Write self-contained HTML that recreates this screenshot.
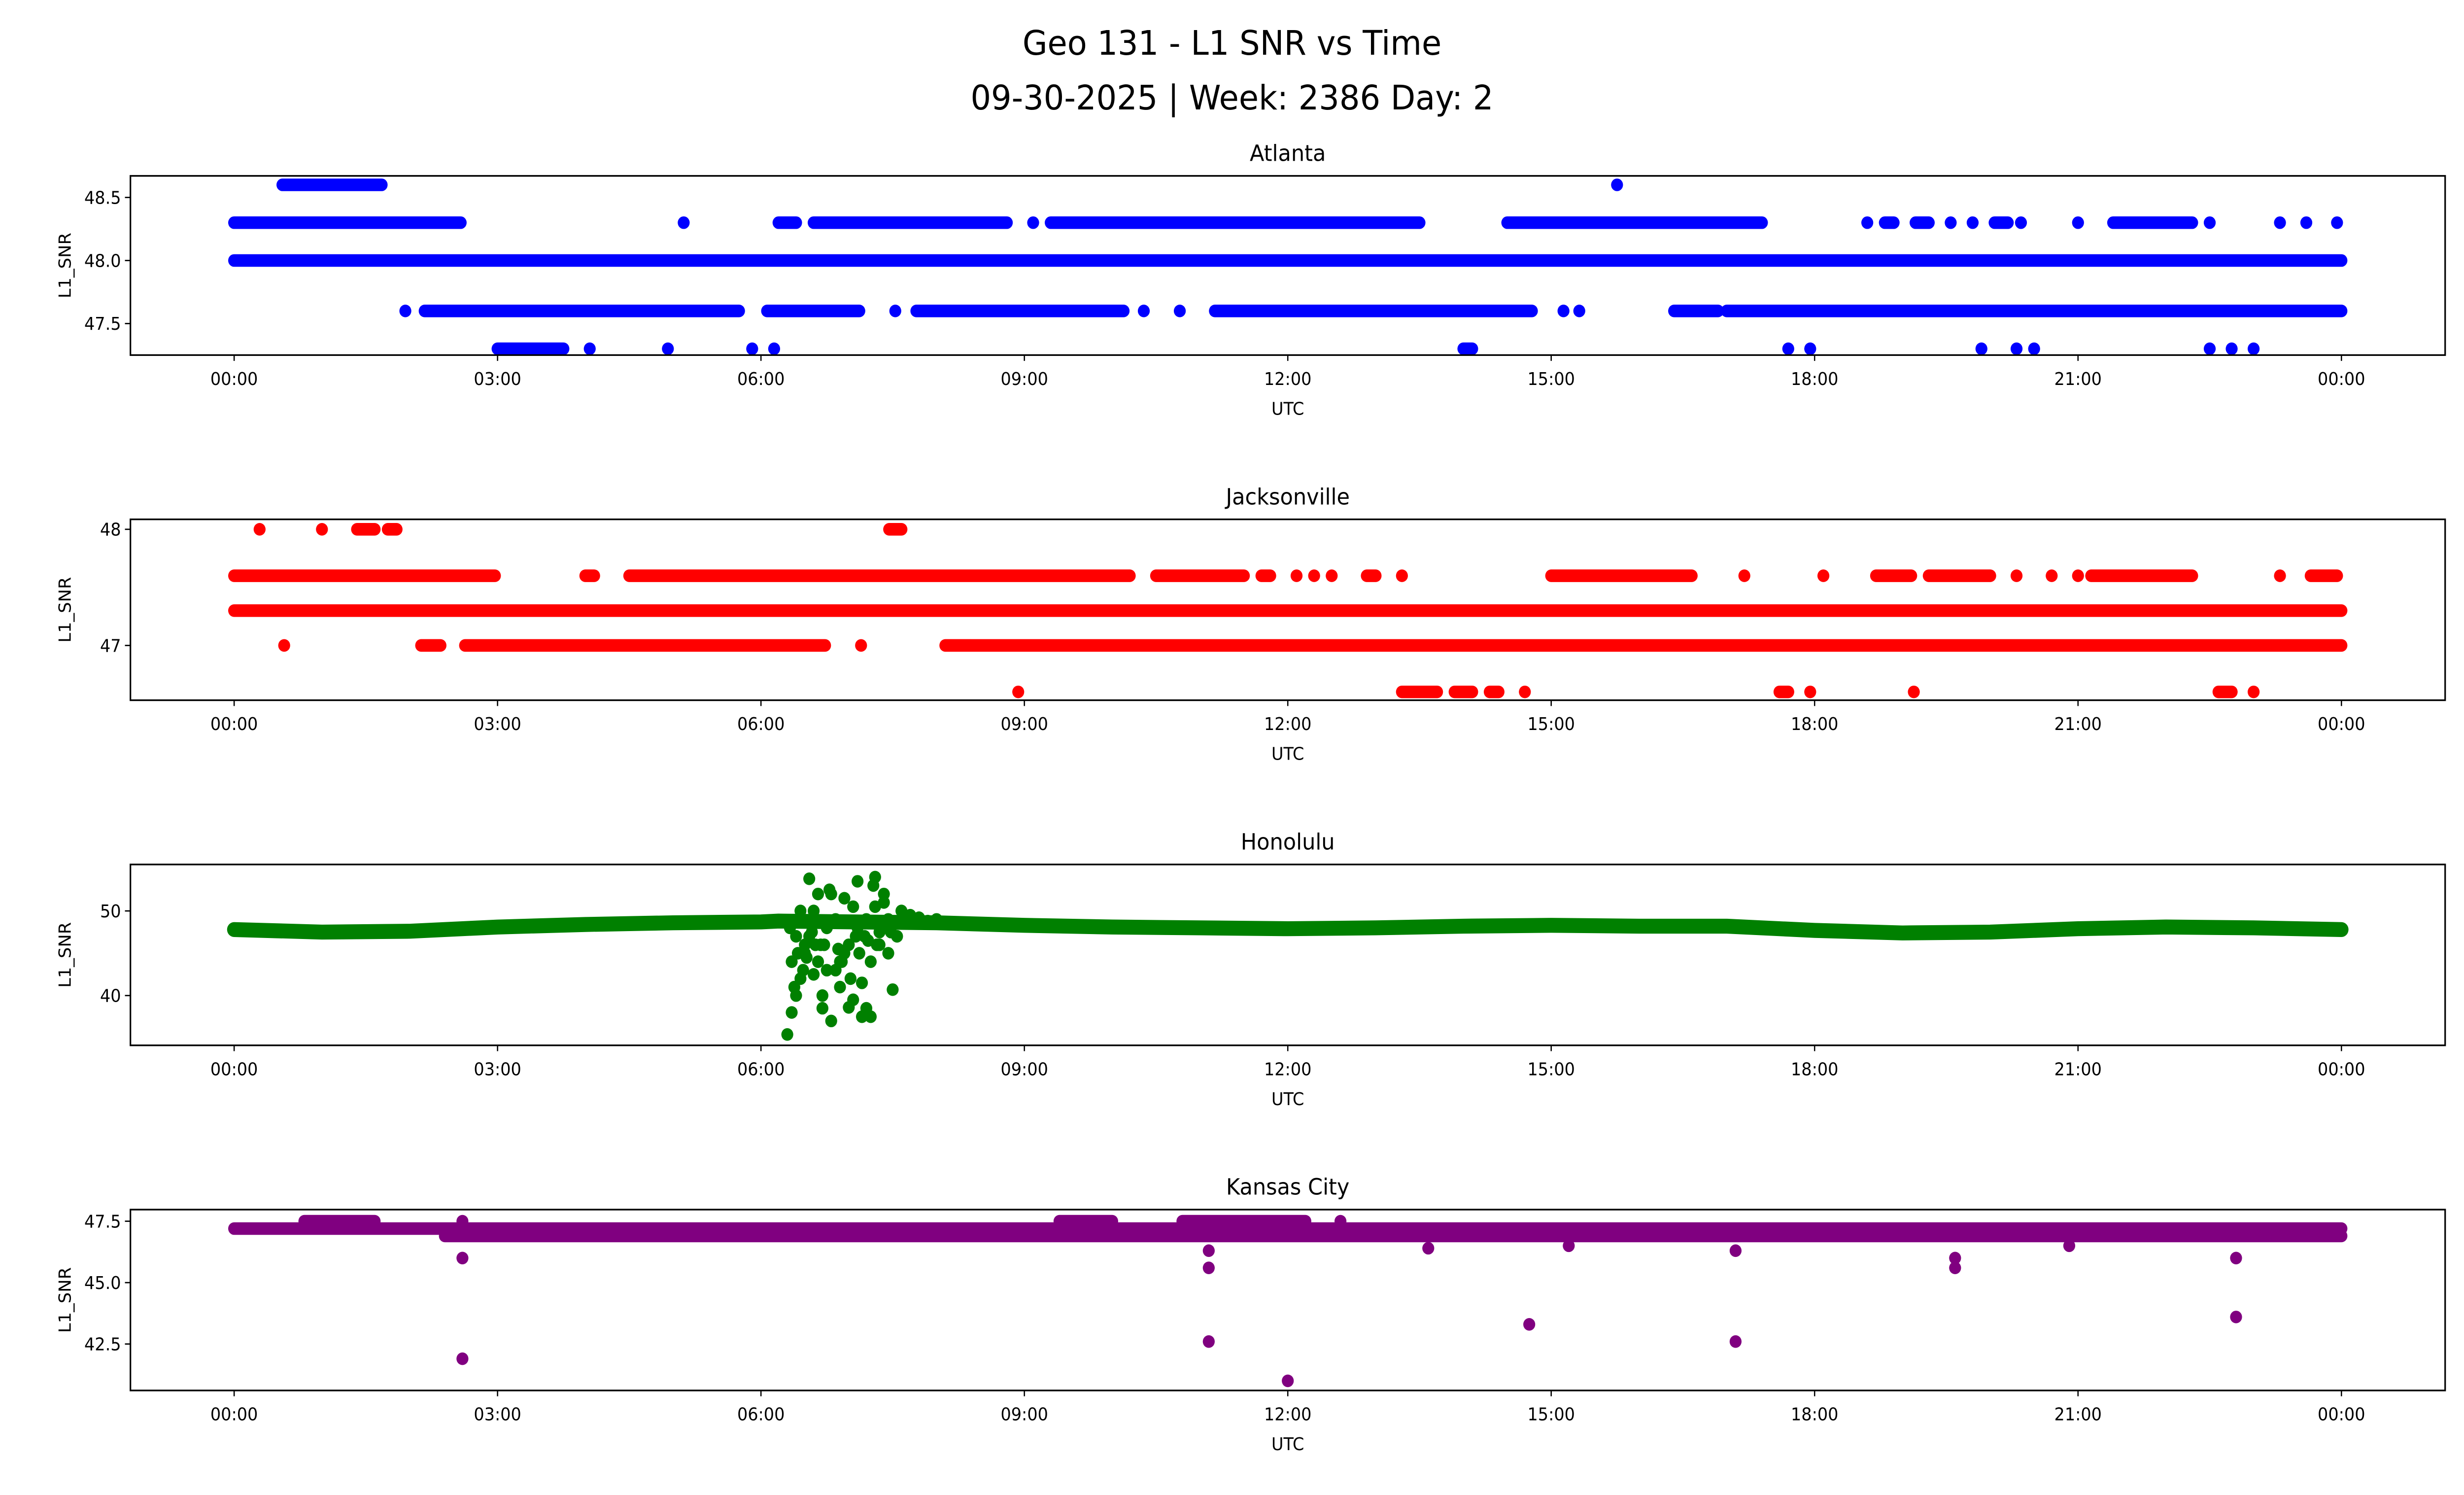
<!DOCTYPE html>
<html><head><meta charset="utf-8"><style>
html,body{margin:0;padding:0;background:#fff;overflow:hidden;width:100%;height:100%}
svg{display:block;position:fixed;left:0;top:0;width:100vw;height:100vh}
text{font-family:"DejaVu Sans","Liberation Sans",sans-serif;fill:#000}
</style></head><body>
<svg id="chart" viewBox="0 0 1568 901" preserveAspectRatio="none" xmlns="http://www.w3.org/2000/svg">
<text x="784" y="33" font-size="20.5" text-anchor="middle">Geo 131 - L1 SNR vs Time</text>
<text x="784" y="66" font-size="20.5" text-anchor="middle">09-30-2025 | Week: 2386 Day: 2</text>
<g id="plots"></g>
</svg>
<script>
// x-axis ticks (hours) and labels
const xTickHours = [0,3,6,9,12,15,18,21,24];
const xTickLabels = ["00:00","03:00","06:00","09:00","12:00","15:00","18:00","21:00","00:00"];

// Atlanta: runs [startHour, endHour] per SNR level
const atlLevels = [48.6, 48.3, 48.0, 47.6, 47.3];
const atlRuns = [
  [[0.55,1.68],[15.75,15.75]],
  [[0,2.58],[5.12,5.12],[6.2,6.4],[6.6,8.8],[9.1,9.1],[9.3,13.5],[14.5,17.4],[18.6,18.6],[18.8,18.9],[19.15,19.3],[19.55,19.55],[19.8,19.8],[20.05,20.2],[20.35,20.35],[21.0,21.0],[21.4,22.3],[22.5,22.5],[23.3,23.3],[23.6,23.6],[23.95,23.95]],
  [[0,24]],
  [[1.95,1.95],[2.17,5.75],[6.07,7.12],[7.53,7.53],[7.77,10.13],[10.36,10.36],[10.77,10.77],[11.17,14.78],[15.14,15.14],[15.32,15.32],[16.4,16.9],[17.0,24]],
  [[3.0,3.75],[4.05,4.05],[4.94,4.94],[5.9,5.9],[6.15,6.15],[14.0,14.1],[17.7,17.7],[17.95,17.95],[19.9,19.9],[20.3,20.3],[20.5,20.5],[22.5,22.5],[22.75,22.75],[23.0,23.0]]
];
const atlYTicks = [47.5,48.0,48.5];

// Jacksonville
const jaxLevels = [48.0, 47.6, 47.3, 47.0, 46.6];
const jaxRuns = [
  [[0.29,0.29],[1.0,1.0],[1.4,1.6],[1.75,1.85],[7.46,7.6]],
  [[0,2.97],[4.0,4.1],[4.5,10.2],[10.5,11.5],[11.7,11.8],[12.1,12.1],[12.3,12.3],[12.5,12.5],[12.9,13.0],[13.3,13.3],[15.0,16.6],[17.2,17.2],[18.1,18.1],[18.7,19.1],[19.3,20.0],[20.3,20.3],[20.7,20.7],[21.0,21.0],[21.15,22.3],[23.3,23.3],[23.65,23.95]],
  [[0,24]],
  [[0.57,0.57],[2.13,2.35],[2.63,6.73],[7.14,7.14],[8.1,24]],
  [[8.93,8.93],[13.3,13.7],[13.9,14.1],[14.3,14.4],[14.7,14.7],[17.6,17.7],[17.95,17.95],[19.13,19.13],[22.6,22.75],[23.0,23.0]]
];
const jaxYTicks = [47,48];

// Honolulu baseline (hour, SNR) and burst points
const honHours = [0,1,2,3,4,5,6,6.2,8,9,10,11,12,13,14,15,16,17,18,19,20,21,22,23,24];
const honValues = [47.8,47.5,47.6,48.1,48.4,48.6,48.7,48.8,48.6,48.3,48.1,48.0,47.9,48.0,48.2,48.3,48.2,48.2,47.7,47.4,47.5,47.9,48.1,48.0,47.8];
const honBurstHours = [6.3,6.35,6.4,6.45,6.5,6.55,6.6,6.65,6.7,6.75,6.8,6.85,6.9,6.95,7.0,7.05,7.1,7.15,7.2,7.25,7.3,7.35,7.4,7.45,7.5,7.6,7.7,7.8,7.9,8.0,6.35,6.45,6.55,6.65,6.75,6.85,6.95,7.05,7.15,7.25,7.35,7.45,6.4,6.6,6.8,7.0,7.2,7.4,6.5,6.7,6.9,7.1,7.3,6.38,6.48,6.62,6.78,7.02,7.18,7.28,6.33,6.42,6.58,6.72,6.88,7.08,7.22,7.38,7.55,6.52,6.68,6.92,7.12,7.32,7.48];
const honBurstValues = [35.4,38,40,42,46,53.8,50,44,38.5,48,37,43,41,51.5,38.6,39.5,53.5,37.5,38.5,37.5,54,46,52,49,40.7,50,49.5,49.2,48.8,49,44,50,47,52,43,49,45,50.5,41.5,44,47.5,45,47,42.5,52,46,49,51,45,40,44,48,50.5,41,43,46,52.5,42,47,53,48,45,47.5,46,45.5,47,46.5,48,47,44.5,46,44,45,46,47.5];
const honYTicks = [40,50];

// Kansas City
const kcLevels = [47.5, 47.2, 46.9];
const kcRuns = [
  [[0.8,1.6],[2.6,2.6],[9.4,10.0],[10.8,12.2],[12.6,12.6]],
  [[0,24]],
  [[2.4,24]]
];
const kcOutHours = [2.6,2.6,11.1,11.1,11.1,12.0,14.75,17.1,17.1,19.6,19.6,22.8,22.8,13.6,20.9,15.2];
const kcOutValues = [46.0,41.9,46.3,45.6,42.6,41.0,43.3,42.6,46.3,45.6,46.0,43.6,46.0,46.4,46.5,46.5];
const kcYTicks = [42.5,45.0,47.5];

const NS = "http://www.w3.org/2000/svg";
const plots = document.getElementById('plots');
const X0 = 83, X1 = 1556;
function xs(h){ return 149 + h/24*1341; }
function mk(tag, attrs, parent){
  const e = document.createElementNS(NS, tag);
  for (const k in attrs) e.setAttribute(k, attrs[k]);
  (parent||plots).appendChild(e);
  return e;
}
function yScale(top, v1, p1, v2, p2){ return v => p1 + (v - v1) * (p2 - p1) / (v2 - v1); }

function panel(name, title, top, bottom, ys, yTicks, fmt, color, drawFn){
  const g = mk('g', {});
  
  
  const t = mk('text', {x: (X0+X1)/2, y: top-9, 'font-size': 13.5, 'text-anchor':'middle'}, g);
  t.textContent = title;
  
  
  const marks = mk('g', {fill: color, stroke: color}, g);
  
  
  drawFn(marks, ys);
  const frame = mk('rect', {x:X0, y:top, width:X1-X0, height:bottom-top, fill:'none', stroke:'#000', 'stroke-width':1}, g);
  
  
  yTicks.forEach(v => {
    const y = ys(v);
    mk('line', {x1:X0-3.5, x2:X0, y1:y, y2:y, stroke:'#000', 'stroke-width':0.8}, g);
    const tl = mk('text', {x:X0-6, y:y+3.8, 'font-size':10.5, 'text-anchor':'end'}, g);
    tl.textContent = fmt(v);
    
    
  });
  xTickHours.forEach((h,i) => {
    const x = xs(h);
    mk('line', {x1:x, x2:x, y1:bottom, y2:bottom+3.5, stroke:'#000', 'stroke-width':0.8}, g);
    const tl = mk('text', {x:x, y:bottom+18, 'font-size':10.5, 'text-anchor':'middle'}, g);
    tl.textContent = xTickLabels[i];
    
    
  });
  const xl = mk('text', {x:(X0+X1)/2, y:bottom+36, 'font-size':10.5, 'text-anchor':'middle'}, g);
  xl.textContent = 'UTC';
  
  
  const cy = (top+bottom)/2;
  const yl = mk('text', {x:0, y:0, 'font-size':10.5, 'text-anchor':'middle', transform:`translate(${X0-58+20},${cy}) rotate(-90)`}, g);
  yl.textContent = 'L1_SNR';
  
  
}

function drawRuns(levels, runs){
  return (g, ys) => {
    levels.forEach((lv, i) => {
      runs[i].forEach(r => {
        const l = mk('line', {x1:xs(r[0]), x2:xs(r[1]), y1:ys(lv), y2:ys(lv), 'stroke-width':7.6, 'stroke-linecap':'round'}, g);
        
        
      });
    });
  };
}

const ysAtl = yScale(0, 48.5, 119, 47.5, 195);
panel('atlanta', 'Atlanta', 106, 214, ysAtl, atlYTicks, v=>v.toFixed(1), '#0000ff', drawRuns(atlLevels, atlRuns));

const ysJax = yScale(0, 48, 319, 47, 389);
panel('jacksonville', 'Jacksonville', 313, 422, ysJax, jaxYTicks, v=>String(v), '#ff0000', drawRuns(jaxLevels, jaxRuns));

const ysHon = yScale(0, 50, 549, 40, 600);
panel('honolulu', 'Honolulu', 521, 630, ysHon, honYTicks, v=>String(v), '#008000', (g, ys) => {
  let d = '';
  honHours.forEach((h,i) => { d += (i? 'L':'M') + xs(h) + ' ' + ys(honValues[i]) + ' '; });
  const p = mk('path', {d:d, fill:'none', 'stroke-width':9, 'stroke-linecap':'round', 'stroke-linejoin':'round'}, g);
  
  
  honBurstHours.forEach((h,i) => {
    const c = mk('circle', {cx:xs(h), cy:ys(honBurstValues[i]), r:3.8, stroke:'none'}, g);
    
    
  });
});

const ysKc = yScale(0, 47.5, 736, 42.5, 810);
panel('kansas-city', 'Kansas City', 729, 838, ysKc, kcYTicks, v=>v.toFixed(1), '#800080', (g, ys) => {
  drawRuns(kcLevels, kcRuns)(g, ys);
  kcOutHours.forEach((h,i) => {
    const c = mk('circle', {cx:xs(h), cy:ys(kcOutValues[i]), r:3.8, stroke:'none'}, g);
    
    
  });
});
</script>
</body></html>
